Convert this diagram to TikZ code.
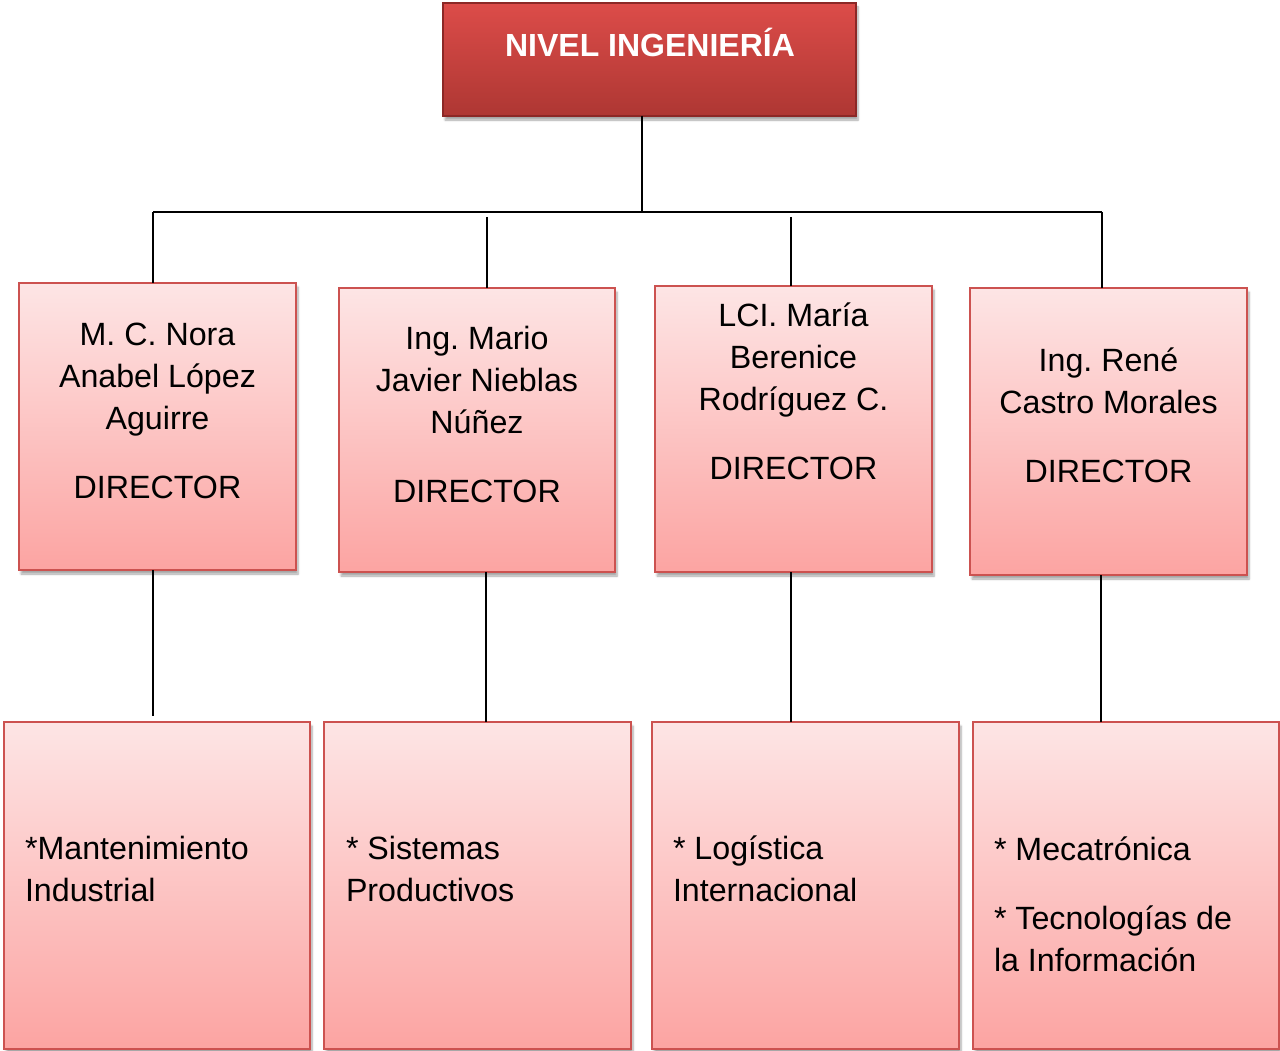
\documentclass[tikz,border=0pt]{standalone}
\usepackage{fontspec}
\setmainfont{Liberation Sans}
\usetikzlibrary{positioning, shadows.blur}
\definecolor{boxtop}{RGB}{253,229,229}
\definecolor{boxbot}{RGB}{252,164,162}
\definecolor{boxline}{RGB}{204,82,80}
\definecolor{headtop}{RGB}{220,76,73}
\definecolor{headbot}{RGB}{174,55,51}
\definecolor{headline}{RGB}{140,40,38}
\begin{document}
\frenchspacing
\begin{tikzpicture}[x=1pt,y=-1pt,
      every node/.style={inner sep=0pt, outer sep=0pt},
      box/.style={draw=boxline, line width=1.5pt, top color=boxtop, bottom color=boxbot,
        anchor=north west,
        blur shadow={shadow xshift=2pt, shadow yshift=-4pt, shadow blur steps=6, shadow opacity=35}},
      head/.style={box, draw=headline, top color=headtop, bottom color=headbot},
      dirtext/.style={font=\fontsize{32.2}{42}\selectfont, align=center},
      cartext/.style={font=\fontsize{32.2}{42}\selectfont, align=left},
      link/.style={line width=1.5pt}
      ]

      \useasboundingbox (0,0) rectangle (1280,1051);

      % nivel
      \node[head, minimum width=413pt, minimum height=113pt] (nivel) at (443,3) {};
      \node[font=\fontsize{32}{38}\selectfont\bfseries, text=white, anchor=base] (nivelt) at (650,57) {NIVEL INGENIERÍA};

      % directores
      \node[box, minimum width=277pt, minimum height=287pt] (d1) at (19,283) {};
      \node[box, minimum width=276pt, minimum height=284pt] (d2) at (339,288) {};
      \node[box, minimum width=277pt, minimum height=286pt] (d3) at (655,286) {};
      \node[box, minimum width=277pt, minimum height=287pt] (d4) at (970,288) {};
      \node[dirtext, below=32.6pt of d1.north] (d1t) {\strut M. C. Nora\\Anabel López\\Aguirre\\[27pt]DIRECTOR};
      \node[dirtext, below=31.6pt of d2.north] (d2t) {\strut Ing. Mario\\Javier Nieblas\\Núñez\\[27pt]DIRECTOR};
      \node[dirtext, below=10.6pt of d3.north] (d3t) {\strut LCI. María\\Berenice\\Rodríguez C.\\[27pt]DIRECTOR};
      \node[dirtext, below=53.6pt of d4.north] (d4t) {\strut Ing. René\\Castro Morales\\[27pt]DIRECTOR};

      % carreras
      \node[box, minimum width=306pt, minimum height=327pt] (c1) at (4,722) {};
      \node[box, minimum width=307pt, minimum height=327pt] (c2) at (324,722) {};
      \node[box, minimum width=307pt, minimum height=327pt] (c3) at (652,722) {};
      \node[box, minimum width=306pt, minimum height=327pt] (c4) at (973,722) {};
      \node[cartext, below right=107.6pt and 21pt of c1.north west] (c1t) {\strut *Mantenimiento\\Industrial};
      \node[cartext, below right=107.6pt and 22pt of c2.north west] (c2t) {\strut * Sistemas\\Productivos};
      \node[cartext, below right=107.6pt and 21pt of c3.north west] (c3t) {\strut * Logística\\Internacional};
      \node[cartext, below right=108.6pt and 21pt of c4.north west] (c4t) {\strut * Mecatrónica\\[27pt]* Tecnologías de\\la Información};

      % lineas
      \coordinate (bus) at (642,212);
      \coordinate (busl) at (153,212);
      \coordinate (busr) at (1102,212);
      \coordinate (b2) at (487,217);
      \coordinate (b3) at (791,217);
      \draw[link] (nivel.south -| bus) -- (bus);
      \draw[link] (busl) -- (busr);
      \draw[link] (busl) -- (busl |- d1.north);
      \draw[link] (b2) -- (b2 |- d2.north);
      \draw[link] (b3) -- (b3 |- d3.north);
      \draw[link] (busr) -- (busr |- d4.north);
      \draw[link] (d1.south -| busl) -- ++(0,146);
      \draw[link] (d2.south -| 486,0) -- (c2.north -| 486,0);
      \draw[link] (d3.south -| b3) -- (c3.north -| b3);
      \draw[link] (d4.south -| 1101,0) -- (c4.north -| 1101,0);
    \end{tikzpicture}
\end{document}
